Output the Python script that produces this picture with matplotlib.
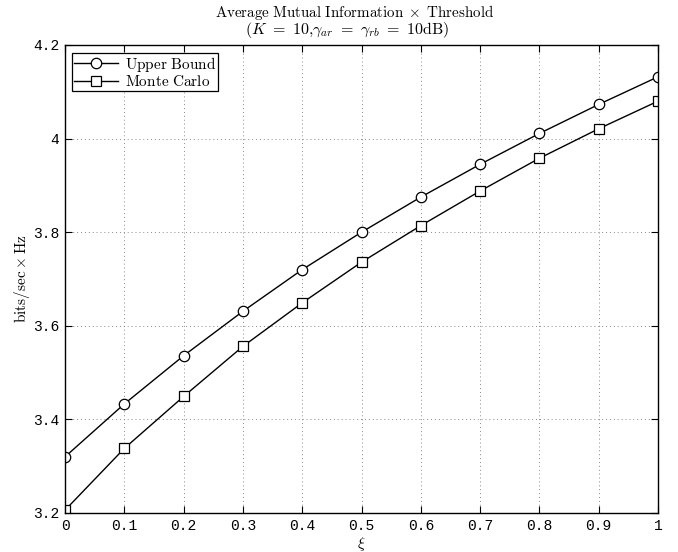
import matplotlib
matplotlib.use("Agg")
import matplotlib.pyplot as plt

xi = [0.0, 0.1, 0.2, 0.3, 0.4, 0.5, 0.6, 0.7, 0.8, 0.9, 1.0]
upper_bound = [3.320, 3.433, 3.536, 3.631, 3.720, 3.800, 3.875, 3.945, 4.011, 4.073, 4.132]
monte_carlo = [3.206, 3.338, 3.449, 3.556, 3.649, 3.736, 3.814, 3.888, 3.958, 4.021, 4.080]
xticks = [0, 0.1, 0.2, 0.3, 0.4, 0.5, 0.6, 0.7, 0.8, 0.9, 1]
xtick_labels = ["0", "0.1", "0.2", "0.3", "0.4", "0.5", "0.6", "0.7", "0.8", "0.9", "1"]
yticks = [3.2, 3.4, 3.6, 3.8, 4.0, 4.2]
ytick_labels = ["3.2", "3.4", "3.6", "3.8", "4", "4.2"]
title_line1 = r'$\mathrm{Average\ Mutual\ Information}\;\times\;\mathrm{Threshold}$'
title_line2 = r'$(K\ =\ 10{,}\gamma_{ar}\ =\ \gamma_{rb}\ =\ 10\mathrm{dB})$'

plt.rcParams['mathtext.fontset'] = 'cm'

fig = plt.figure(figsize=(6.78, 5.52), dpi=100)
ax = fig.add_axes([65/678, 1-513/552, 593/678, 468/552])

ax.plot(xi, upper_bound, color='black', lw=1.0, marker='o', ms=7.5,
        mfc='white', mec='black', mew=0.9, label=r'$\mathrm{Upper\ Bound}$')
ax.plot(xi, monte_carlo, color='black', lw=1.0, marker='s', ms=6.5,
        mfc='white', mec='black', mew=0.9, label=r'$\mathrm{Monte\ Carlo}$')

ax.set_xlim(0, 1)
ax.set_ylim(3.2, 4.2)
ax.set_xticks(xticks)
ax.set_xticklabels(xtick_labels, family='Liberation Mono', fontsize=10.5)
ax.set_yticks(yticks)
ax.set_yticklabels(ytick_labels, family='Liberation Mono', fontsize=10.5)
ax.tick_params(direction='in', top=True, right=True, length=5, width=0.8, pad=4)
ax.grid(True, linestyle=(0, (1, 3)), color='#888888', lw=0.7)
for s in ax.spines.values():
    s.set_linewidth(1.0)

fig.text(355/678, 1-12/552, title_line1, ha='center', va='center', fontsize=10.8)
fig.text(347/678, 1-30/552, title_line2, ha='center', va='center', fontsize=11.5)
ax.set_xlabel(r'$\xi$', fontsize=11, labelpad=2)
ax.set_ylabel(r'$\mathrm{bits/sec}\times\mathrm{Hz}$', fontsize=11, labelpad=1)

leg = ax.legend(loc='upper left', bbox_to_anchor=(7/593, 1-8/468), borderaxespad=0,
                fontsize=11, fancybox=False, edgecolor='black', framealpha=1,
                handlelength=2.9, handletextpad=0.5, borderpad=0.1, labelspacing=0.05)
leg.get_frame().set_linewidth(0.9)

fig.savefig('out.png', dpi=100)
